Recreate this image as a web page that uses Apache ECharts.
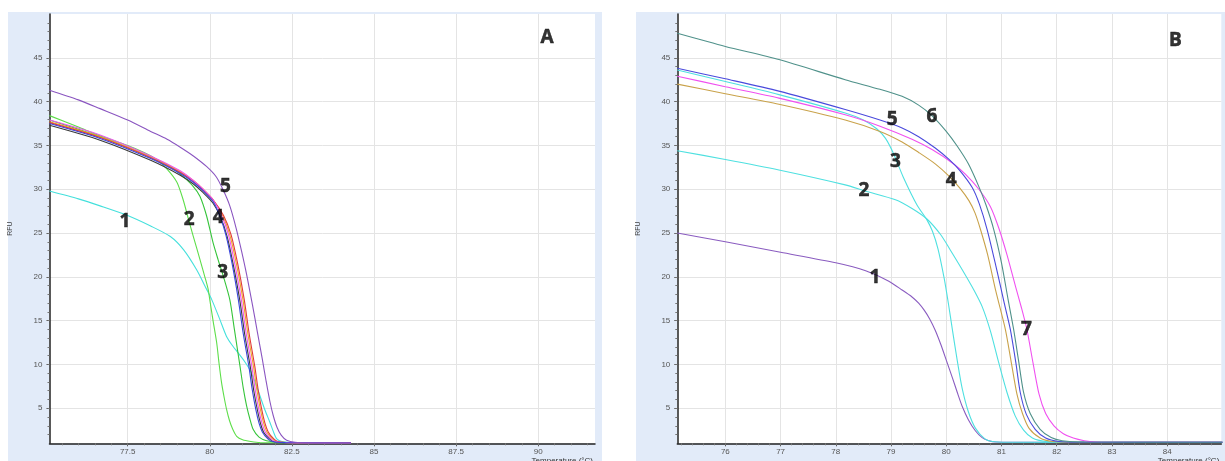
<!DOCTYPE html>
<html><head><meta charset="utf-8">
<script src="https://cdn.jsdelivr.net/npm/echarts@6/dist/echarts.min.js"></script>
<style>html,body{margin:0;padding:0;background:#fff}#c{width:1225px;height:461px}</style>
</head><body><div id="c"></div>
<script>
// ---------- axis ticks ----------
const aXTicks = [77.5, 80, 82.5, 85, 87.5, 90];
const bXTicks = [76, 77, 78, 79, 80, 81, 82, 83, 84];
const yTicks = [5, 10, 15, 20, 25, 30, 35, 40, 45];

// ---------- Panel A data ----------
const a1Cyan = [[75.12,29.8],[76.0,28.9],[76.66,28.1],[77.5,27.0],[78.2,25.8],[78.8,24.6],[79.2,23.1],[79.6,20.8],[79.9,18.6],[80.06,17.4],[80.3,15.2],[80.51,13.2],[80.7,12.1],[80.87,11.3],[81.05,10.4],[81.22,9.4],[81.38,8.0],[81.53,6.4],[81.68,4.8],[81.83,3.4],[81.94,2.3],[82.04,1.5],[82.2,1.2],[82.6,1.08],[84.3,1.03]];
const a2Green = [[75.12,38.4],[76.0,37.1],[76.66,36.1],[77.5,35.0],[78.0,34.2],[78.38,33.4],[78.7,32.3],[79.0,30.8],[79.19,28.8],[79.35,26.6],[79.5,24.6],[79.7,22.0],[79.85,20.0],[79.95,18.6],[80.0,17.4],[80.1,15.0],[80.21,12.5],[80.28,10.2],[80.36,7.9],[80.44,6.2],[80.51,4.9],[80.6,3.6],[80.7,2.6],[80.82,1.8],[81.0,1.4],[81.25,1.2],[81.53,1.08],[84.3,1.03]];
const a3Green = [[75.12,37.9],[76.66,36.0],[78.2,33.7],[78.8,32.6],[79.2,31.4],[79.5,30.3],[79.7,29.2],[79.9,27.0],[80.1,23.9],[80.25,22.0],[80.41,20.1],[80.61,17.4],[80.75,14.0],[80.92,9.8],[81.02,7.3],[81.12,5.3],[81.22,3.8],[81.32,2.6],[81.5,1.7],[81.73,1.3],[82.1,1.12],[84.3,1.03]];
const a4Blue = [[75.12,37.5],[76.66,35.8],[78.2,33.5],[79.1,31.8],[79.5,30.8],[79.8,29.8],[80.1,28.6],[80.3,27.0],[80.49,24.8],[80.68,21.5],[80.87,17.4],[81.02,13.5],[81.19,9.8],[81.29,7.2],[81.4,4.9],[81.5,3.3],[81.6,2.3],[81.77,1.5],[81.9,1.2],[82.3,1.08],[84.3,1.03]];
const a4Magenta = [[75.12,37.9],[76.66,36.2],[78.2,33.8],[79.1,32.1],[79.5,31.0],[79.8,30.0],[80.1,28.8],[80.36,27.0],[80.57,24.8],[80.76,21.5],[80.96,17.4],[81.11,13.5],[81.28,9.8],[81.38,7.2],[81.49,4.9],[81.59,3.3],[81.69,2.3],[81.86,1.5],[81.99,1.2],[82.35,1.08],[84.3,1.03]];
const a4Red = [[75.12,37.6],[76.66,35.9],[78.2,33.6],[79.1,31.9],[79.5,30.9],[79.8,29.9],[80.1,28.8],[80.42,27.0],[80.65,24.8],[80.85,21.5],[81.05,17.4],[81.2,13.5],[81.37,9.8],[81.47,7.2],[81.58,4.9],[81.68,3.3],[81.78,2.3],[81.95,1.5],[82.08,1.2],[82.45,1.08],[84.3,1.03]];
const a4Orange = [[75.12,37.7],[76.66,36.0],[78.2,33.7],[79.1,32.0],[79.5,31.0],[79.8,30.0],[80.1,28.8],[80.39,27.0],[80.61,24.8],[80.81,21.5],[81.01,17.4],[81.16,13.5],[81.33,9.8],[81.43,7.2],[81.54,4.9],[81.64,3.3],[81.74,2.3],[81.91,1.5],[82.04,1.2],[82.4,1.08],[84.3,1.03]];
const a4Dark = [[75.12,37.3],[76.66,35.6],[78.2,33.3],[79.1,31.6],[79.5,30.6],[79.8,29.6],[80.1,28.4],[80.33,26.8],[80.53,24.6],[80.72,21.3],[80.92,17.2],[81.07,13.3],[81.24,9.6],[81.34,7.0],[81.45,4.8],[81.55,3.2],[81.65,2.2],[81.82,1.5],[81.95,1.2],[82.3,1.08],[84.3,1.03]];
const a5Purple = [[75.12,41.3],[76.0,40.2],[76.66,39.2],[77.5,37.9],[78.2,36.6],[78.7,35.7],[79.1,34.8],[79.5,33.8],[79.9,32.6],[80.2,31.4],[80.41,29.9],[80.61,28.1],[80.8,25.6],[80.97,22.9],[81.12,20.3],[81.3,16.8],[81.45,13.7],[81.6,10.6],[81.72,8.0],[81.83,5.8],[81.93,4.2],[82.05,2.8],[82.18,1.9],[82.34,1.35],[82.6,1.12],[83.2,1.06],[84.3,1.03]];

// ---------- Panel B data ----------
const b1Purple = [[75.13,25.0],[76.0,24.0],[77.0,22.8],[78.0,21.6],[78.54,20.7],[78.96,19.5],[79.2,18.5],[79.38,17.7],[79.5,17.0],[79.6,16.2],[79.7,15.2],[79.8,13.9],[79.9,12.3],[80.0,10.5],[80.11,8.5],[80.2,6.8],[80.29,5.2],[80.4,3.7],[80.53,2.4],[80.65,1.65],[80.77,1.3],[80.9,1.15],[81.2,1.12],[85.0,1.1]];
const b2Cyan = [[75.13,34.4],[76.0,33.4],[76.97,32.2],[78.17,30.5],[78.53,29.8],[79.08,28.8],[79.38,27.8],[79.65,26.6],[79.9,24.8],[80.07,23.1],[80.3,20.7],[80.5,18.5],[80.65,16.6],[80.8,13.8],[80.95,10.2],[81.1,6.8],[81.25,4.1],[81.4,2.5],[81.56,1.6],[81.8,1.2],[82.2,1.12],[85.0,1.1]];
const b3Cyan = [[75.13,43.6],[76.0,42.3],[76.97,40.8],[78.17,38.7],[78.5,37.9],[78.74,36.9],[78.9,35.8],[79.05,34.0],[79.22,31.4],[79.47,28.2],[79.65,26.5],[79.75,25.2],[79.85,23.2],[79.96,19.9],[80.04,16.9],[80.11,14.0],[80.2,10.4],[80.29,7.2],[80.4,4.6],[80.53,2.7],[80.7,1.5],[80.83,1.2],[81.1,1.12],[85.0,1.1]];
const b4Orange = [[75.13,42.0],[76.0,40.9],[76.97,39.7],[78.17,37.9],[78.8,36.6],[79.2,35.4],[79.5,34.2],[79.8,32.9],[80.05,31.5],[80.25,30.1],[80.41,28.7],[80.52,27.3],[80.62,25.4],[80.75,22.5],[80.9,18.3],[81.07,14.0],[81.17,10.5],[81.28,6.6],[81.38,4.4],[81.5,2.7],[81.7,1.6],[81.92,1.2],[82.3,1.12],[85.0,1.1]];
const b5Blue = [[75.13,43.8],[76.0,42.6],[76.97,41.2],[78.17,39.1],[78.8,37.9],[79.2,37.0],[79.5,36.0],[79.8,34.7],[80.05,33.4],[80.25,32.1],[80.47,30.2],[80.6,28.3],[80.74,25.4],[80.9,21.2],[81.05,17.0],[81.16,14.0],[81.26,10.2],[81.34,6.8],[81.45,4.3],[81.61,2.6],[81.8,1.6],[82.04,1.2],[82.4,1.12],[85.0,1.1]];
const b6Teal = [[75.13,47.8],[76.0,46.3],[76.97,44.8],[78.17,42.5],[78.8,41.4],[79.2,40.6],[79.5,39.6],[79.74,38.4],[80.0,36.6],[80.2,34.9],[80.4,32.9],[80.59,30.3],[80.72,28.2],[80.86,25.4],[81.0,21.6],[81.12,17.4],[81.22,14.0],[81.31,10.4],[81.4,6.8],[81.52,4.4],[81.7,2.6],[81.9,1.65],[82.1,1.3],[82.5,1.15],[85.0,1.12]];
const b7Magenta = [[75.13,42.9],[76.0,41.7],[76.97,40.4],[78.17,38.5],[78.8,37.2],[79.38,35.7],[79.75,34.5],[80.11,33.0],[80.35,31.7],[80.59,30.0],[80.8,28.0],[80.96,25.4],[81.1,22.5],[81.25,19.0],[81.36,16.5],[81.46,14.0],[81.57,10.2],[81.68,6.6],[81.8,4.4],[81.95,3.0],[82.12,2.1],[82.3,1.6],[82.5,1.3],[82.7,1.15],[83.0,1.12],[85.0,1.1]];

// ---------- annotation labels ----------
const labelsA = [['1',77.42,26.35],['2',79.37,26.55],['3',80.39,20.54],['4',80.26,26.74],['5',80.48,30.34],['A',90.27,47.26]];
const labelsB = [['1',78.71,19.9],['2',78.51,29.89],['3',79.08,33.12],['4',80.09,30.99],['5',79.02,37.95],['6',79.74,38.32],['7',81.45,14.0],['B',84.15,46.99]];

const aRange = [75.12, 91.73];
const bRange = [75.13, 84.98];
const yRange = [1, 50];

function minorList(lo, hi, step) {
  const out = [];
  for (let v = Math.ceil(lo / step) * step; v <= hi + 1e-9; v += step) out.push(+v.toFixed(3));
  return out;
}

const axisFont = { fontSize: 8, color: '#555', fontFamily: 'Liberation Sans' };
const gridLine = { show: true, lineStyle: { color: '#e4e4e4', width: 1 } };

function xAxes(grid, range, major, minorStep) {
  return [
    { type: 'value', gridIndex: grid, position: 'bottom', min: range[0], max: range[1],
      axisLine: { show: true, lineStyle: { color: '#222', width: 1.5 } },
      axisTick: { show: true, length: 3, customValues: major, lineStyle: { color: '#555' } },
      axisLabel: { show: true, customValues: major, margin: 4, ...axisFont, formatter: v => String(v) },
      splitLine: gridLine,
      name: 'Temperature (°C)', nameLocation: 'end', nameGap: -2,
      nameTextStyle: { fontSize: 8, color: '#333', align: 'right', verticalAlign: 'top', padding: [13, 0, 0, 0], fontFamily: 'Liberation Sans' } },
    { type: 'value', gridIndex: grid, position: 'bottom', min: range[0], max: range[1],
      axisLine: { show: false }, axisLabel: { show: false }, splitLine: { show: false },
      axisTick: { show: true, length: 2, customValues: minorList(range[0], range[1], minorStep), lineStyle: { color: '#777' } } }
  ];
}
function yAxes(grid) {
  return [
    { type: 'value', gridIndex: grid, position: 'left', min: yRange[0], max: yRange[1],
      axisLine: { show: true, lineStyle: { color: '#222', width: 1.5 } },
      axisTick: { show: true, length: 3, customValues: yTicks, lineStyle: { color: '#555' } },
      axisLabel: { show: true, customValues: yTicks, margin: 7, ...axisFont },
      splitLine: gridLine,
      name: 'RFU', nameLocation: 'middle', nameGap: 36, nameRotate: 90,
      nameTextStyle: { fontSize: 7, color: '#444', fontFamily: 'Liberation Sans' } },
    { type: 'value', gridIndex: grid, position: 'left', min: yRange[0], max: yRange[1],
      axisLine: { show: false }, axisLabel: { show: false }, splitLine: { show: false },
      axisTick: { show: true, length: 2, customValues: minorList(2, 49, 1), lineStyle: { color: '#777' } } }
  ];
}

function line(data, color, xi, yi) {
  return { type: 'line', data, xAxisIndex: xi, yAxisIndex: yi, showSymbol: false, symbol: 'none',
    smooth: 0.25, lineStyle: { color, width: 1.1 }, z: 2, silent: true };
}
function labelSeries(list, xi, yi) {
  return { type: 'scatter', xAxisIndex: xi, yAxisIndex: yi, symbolSize: 1, z: 10,
    itemStyle: { color: 'rgba(0,0,0,0)' },
    data: list.map(l => ({ name: l[0], value: [l[1], l[2]] })),
    label: { show: true, position: 'inside', formatter: '{b}', color: '#000', fontSize: 19, fontWeight: 'bold', fontFamily: 'Open Sans',
      textBorderColor: '#000', textBorderWidth: 0.5 } };
}

const chart = echarts.init(document.getElementById('c'), null, { renderer: 'canvas' });
chart.setOption({
  animation: false,
  backgroundColor: '#fff',
  graphic: { elements: [
    { type: 'rect', shape: { x: 8, y: 12, width: 594, height: 449 }, style: { fill: '#e2ebf9' }, z: -100, silent: true },
    { type: 'rect', shape: { x: 636, y: 12, width: 589, height: 449 }, style: { fill: '#e2ebf9' }, z: -100, silent: true }
  ] },
  grid: [
    { left: 49.5, top: 14, width: 545.5, height: 429.3, show: true, backgroundColor: '#fff', borderWidth: 0, containLabel: false, outerBoundsMode: 'none' },
    { left: 677.3, top: 14, width: 544, height: 429.3, show: true, backgroundColor: '#fff', borderWidth: 0, containLabel: false, outerBoundsMode: 'none' }
  ],
  xAxis: [...xAxes(0, aRange, aXTicks, 0.5), ...xAxes(1, bRange, bXTicks, 0.2)],
  yAxis: [...yAxes(0), ...yAxes(1)],
  series: [
    line(a1Cyan, '#45e0dc', 0, 0),
    line(a2Green, '#5ede4a', 0, 0),
    line(a3Green, '#35c43a', 0, 0),
    line(a4Dark, '#3a3a3a', 0, 0),
    line(a4Orange, '#f0a828', 0, 0),
    line(a4Red, '#e03a3a', 0, 0),
    line(a4Magenta, '#ee55ee', 0, 0),
    line(a4Blue, '#3a46dc', 0, 0),
    line(a5Purple, '#8a55c0', 0, 0),
    line(b1Purple, '#8a5cc0', 2, 2),
    line(b2Cyan, '#4fe0e0', 2, 2),
    line(b3Cyan, '#4fe0e0', 2, 2),
    line(b4Orange, '#c9a24a', 2, 2),
    line(b7Magenta, '#f050f0', 2, 2),
    line(b5Blue, '#4a4adc', 2, 2),
    line(b6Teal, '#4f918a', 2, 2),
    labelSeries(labelsA, 0, 0),
    labelSeries(labelsB, 2, 2)
  ]
});
</script></body></html>
